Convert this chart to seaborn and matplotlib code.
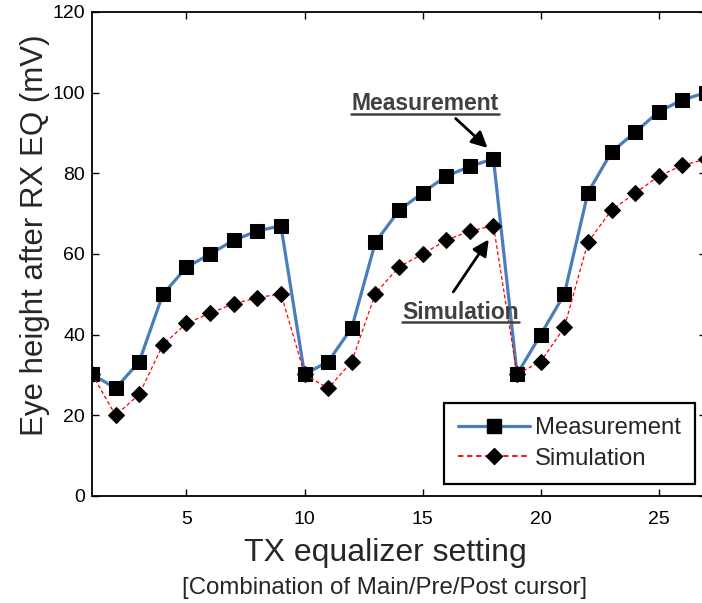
import matplotlib
matplotlib.use('Agg')
import matplotlib.pyplot as plt
import seaborn as sns
import pandas as pd
from matplotlib.lines import Line2D

# TX equalizer settings and eye heights (mV)
settings = list(range(1, 28))
measurement = [30.2, 26.7, 33.3, 50.0, 56.7, 60.0, 63.4, 65.7, 67.0,
               30.2, 33.3, 41.7, 62.9, 70.8, 75.2, 79.3, 81.7, 83.6,
               30.2, 40.0, 50.0, 75.2, 85.3, 90.2, 95.3, 98.2, 100.0]
simulation = [30.2, 20.0, 25.2, 37.5, 42.8, 45.3, 47.7, 49.1, 50.2,
              30.2, 26.7, 33.3, 50.2, 56.8, 60.0, 63.4, 65.7, 67.0,
              30.2, 33.3, 41.8, 62.9, 70.9, 75.1, 79.3, 82.0, 83.5]
x_ticks = [5, 10, 15, 20, 25]
y_ticks = [0, 20, 40, 60, 80, 100, 120]

df = pd.DataFrame({'setting': settings, 'Measurement': measurement, 'Simulation': simulation})

sns.set_style('ticks')
plt.rcParams['font.family'] = ['Liberation Sans', 'DejaVu Sans']

fig = plt.figure(figsize=(7.02, 6.03), dpi=100)
# right edge of the axes sits just past the image border, as in the original
ax = fig.add_axes([92 / 702, 107 / 603, 614 / 702, 484 / 603])

blue = '#4a7ebb'
sns.lineplot(data=df, x='setting', y='Measurement', ax=ax, color=blue, linewidth=2.3,
             marker='s', markersize=10, markerfacecolor='black', markeredgecolor='black',
             label='Measurement', legend=False)
sns.lineplot(data=df, x='setting', y='Simulation', ax=ax, color='red', linewidth=0.9,
             linestyle=(0, (3, 2)), marker='D', markersize=8.5, markerfacecolor='black',
             markeredgecolor='black', label='Simulation', legend=False)

ax.set_xlim(1, 27)
ax.set_ylim(0, 120)
ax.set_xticks(x_ticks)
ax.set_yticks(y_ticks)
ax.tick_params(direction='in', length=5, width=1, labelsize=14, top=True, right=True,
               colors='black')
ax.tick_params(axis='x', pad=11)
ax.tick_params(axis='y', pad=5)
for s in ax.spines.values():
    s.set_visible(True)
    s.set_linewidth(1.3)
    s.set_color('black')

ax.set_ylabel('Eye height after RX EQ (mV)', fontsize=22.5)
ax.yaxis.set_label_coords(-0.068, 0.539)
ax.set_xlabel('')
fig.text(385 / 702, 1 - 553 / 603, 'TX equalizer setting', fontsize=23,
         ha='center', va='center')
fig.text(385 / 702, 1 - 588 / 603, '[Combination of Main/Pre/Post cursor]',
         fontsize=17.3, ha='center', va='center')

handles = [
    Line2D([], [], color=blue, linewidth=2.3, marker='s', markersize=10,
           markerfacecolor='black', markeredgecolor='black'),
    Line2D([], [], color='red', linewidth=1.3, linestyle=(0, (3, 2)), marker='D', markersize=8.5,
           markerfacecolor='black', markeredgecolor='black'),
]
leg = ax.legend(handles, ['Measurement', 'Simulation'], loc='lower right',
                bbox_to_anchor=(603 / 614, 12 / 484), fontsize=17.2, frameon=True, fancybox=False,
                handlelength=3.0, handletextpad=0.2, borderpad=0.6, labelspacing=0.35,
                borderaxespad=0)
leg.get_frame().set_edgecolor('black')
leg.get_frame().set_linewidth(1.6)
leg.get_frame().set_alpha(1)

# callout labels with arrows
grey = '#404040'
labels = []
labels.append(ax.text(15.1, 97.2, 'Measurement', fontsize=16.5, fontweight='bold', color=grey,
                      ha='center', va='center'))
labels.append(ax.text(16.6, 45.6, 'Simulation', fontsize=16.5, fontweight='bold', color=grey,
                      ha='center', va='center'))
arrow = dict(arrowstyle='-|>', color='black', lw=2, mutation_scale=24, shrinkA=0, shrinkB=0)
ax.annotate('', xy=(17.75, 86.3), xytext=(16.4, 93.6), arrowprops=arrow)
ax.annotate('', xy=(17.8, 63.6), xytext=(16.3, 50.6), arrowprops=arrow)

# underline the callout labels
fig.canvas.draw()
renderer = fig.canvas.get_renderer()
for t in labels:
    bb = t.get_window_extent(renderer).transformed(fig.transFigure.inverted())
    fig.add_artist(Line2D([bb.x0, bb.x1], [bb.y0 + 0.002, bb.y0 + 0.002], color=grey,
                          linewidth=1.8, transform=fig.transFigure))

fig.savefig('out.png', dpi=100)
